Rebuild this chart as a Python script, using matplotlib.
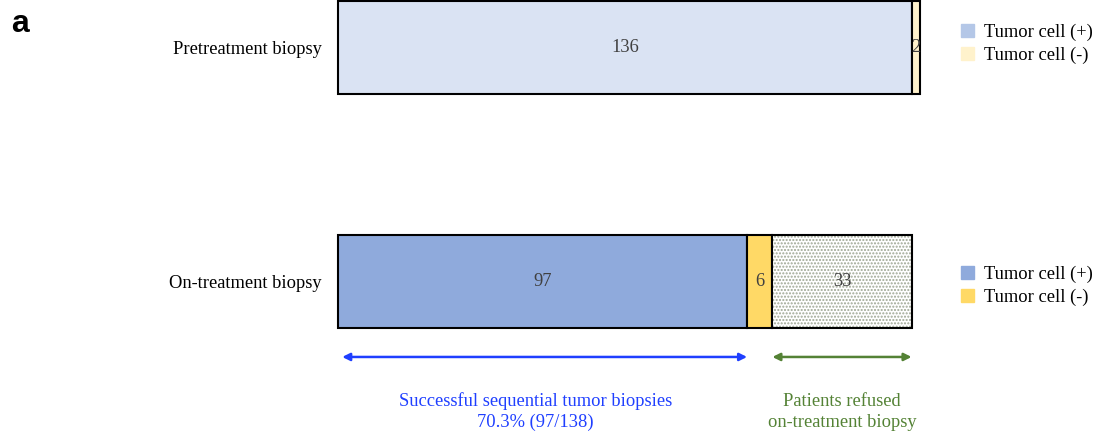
import matplotlib.pyplot as plt
from matplotlib.patches import Patch

plt.rcParams['font.family'] = ['Liberation Serif', 'DejaVu Serif']
plt.rcParams['hatch.linewidth'] = 1.0

# biopsy counts per stage
stages = ['On-treatment biopsy', 'Pretreatment biopsy']
pre_pos = [136]
pre_neg = [2]
on_pos = [97]
on_neg = [6]
refused = [33]
total = 138
pct_success = 70.3

legend_labels = ['Tumor cell (+)', 'Tumor cell (-)']

c_pre_pos = '#DAE3F3'
c_pre_pos_leg = '#B4C7E7'
c_pre_neg = '#FFF2CC'
c_on_pos = '#8FAADC'
c_on_neg = '#FFD966'
c_blue = '#1F3FFF'
c_green = '#548235'
fs = 13.3

fig = plt.figure(figsize=(10.96, 4.36), dpi=100)
ax = fig.add_axes([338 / 1096, 0, 582 / 1096, 1])
ax.set_xlim(0, total)
ax.set_ylim(-0.659, 1.2)

h = 0.395
y_on, y_pre = 0, 0.997
bar_kw = dict(height=h, edgecolor='black', linewidth=1.5, clip_on=False)

# pretreatment bar
ax.barh(y_pre, pre_pos, color=c_pre_pos, **bar_kw)
ax.barh(y_pre, pre_neg, left=pre_pos, color=c_pre_neg, **bar_kw)

# on-treatment bar
ax.barh(y_on, on_pos, color=c_on_pos, **bar_kw)
ax.barh(y_on, on_neg, left=on_pos, color=c_on_neg, **bar_kw)
ax.barh(y_on, refused, left=on_pos[0] + on_neg[0], height=h, color='white',
        edgecolor='#9EA693', hatch='.....', linewidth=0)
ax.barh(y_on, refused, left=on_pos[0] + on_neg[0], color='none', **bar_kw)

# segment counts
txt = dict(ha='center', va='center', fontsize=fs, color='#404040')
ax.text(pre_pos[0] / 2, y_pre, str(pre_pos[0]), **txt)
ax.text(pre_pos[0] + pre_neg[0] / 2, y_pre, str(pre_neg[0]), **txt)
ax.text(on_pos[0] / 2, y_on, str(on_pos[0]), **txt)
ax.text(on_pos[0] + on_neg[0] / 2, y_on, str(on_neg[0]), **txt)
ax.text(on_pos[0] + on_neg[0] + refused[0] / 2, y_on, str(refused[0]), **txt)

ax.set_yticks([y_on, y_pre])
ax.set_yticklabels(stages, fontsize=fs)
ax.tick_params(axis='y', length=0, pad=11.5)
ax.tick_params(axis='x', bottom=False, labelbottom=False)
for s in ax.spines.values():
    s.set_visible(False)

# span arrows
y_arr = -0.322
ax.annotate('', xy=(1, y_arr), xytext=(on_pos[0], y_arr),
            arrowprops=dict(arrowstyle='<|-|>', color=c_blue, lw=1.8,
                            mutation_scale=11, shrinkA=0, shrinkB=0),
            annotation_clip=False)
ax.annotate('', xy=(on_pos[0] + on_neg[0], y_arr), xytext=(total - pre_neg[0], y_arr),
            arrowprops=dict(arrowstyle='<|-|>', color=c_green, lw=1.8,
                            mutation_scale=11, shrinkA=0, shrinkB=0),
            annotation_clip=False)

y_note = -0.556
ax.text(on_pos[0] / 2 - 1.6, y_note,
        f'Successful sequential tumor biopsies\n{pct_success}% ({on_pos[0]}/{total})',
        ha='center', va='center', fontsize=fs, color=c_blue, linespacing=1.3)
ax.text(on_pos[0] + on_neg[0] + refused[0] / 2, y_note,
        'Patients refused\non-treatment biopsy',
        ha='center', va='center', fontsize=fs, color=c_green, linespacing=1.3)

leg_kw = dict(frameon=False, fontsize=fs, handlelength=0.72, handleheight=0.72,
              handletextpad=0.5, labelspacing=0.3, borderpad=0, borderaxespad=0,
              loc='center left')
fig.legend([Patch(color=c_pre_pos_leg), Patch(color=c_pre_neg)], legend_labels,
           bbox_to_anchor=(961 / 1096, 1 - 44 / 436), **leg_kw)
fig.legend([Patch(color=c_on_pos), Patch(color=c_on_neg)], legend_labels,
           bbox_to_anchor=(961 / 1096, 1 - 286 / 436), **leg_kw)

fig.text(11 / 1096, 1 - 24 / 436, 'a', fontsize=23, fontweight='bold',
         family='Liberation Sans', va='center', ha='left')

fig.savefig('out.png', dpi=100)
